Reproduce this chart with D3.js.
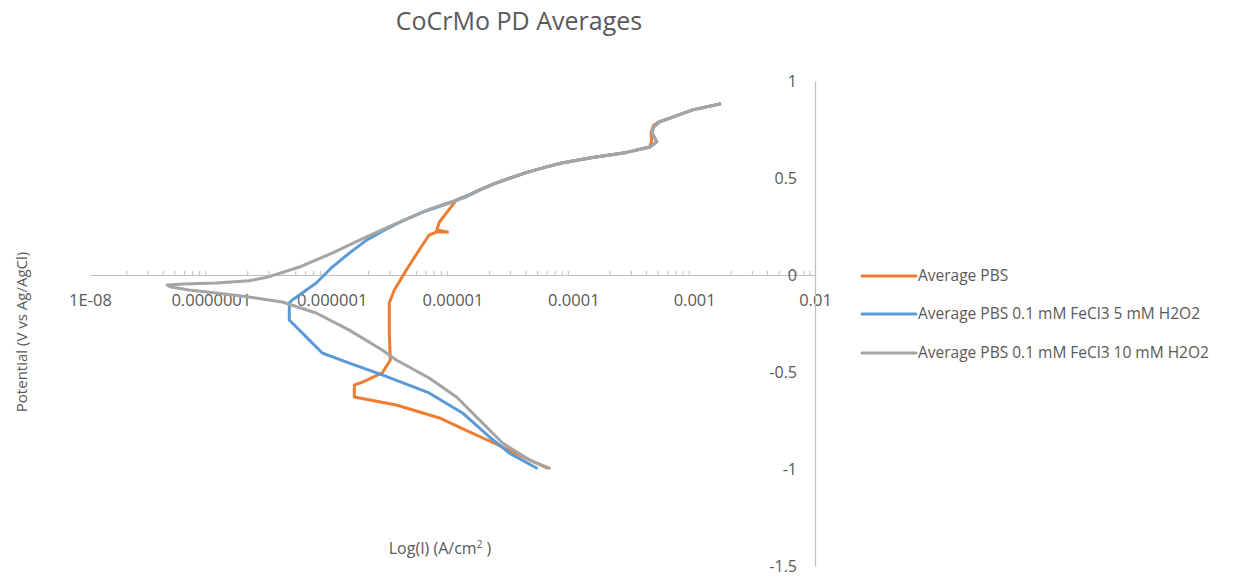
<!DOCTYPE html>
<html>
<head>
<meta charset="utf-8">
<script src="https://cdn.jsdelivr.net/npm/d3@7"></script>
<style>
  html, body { margin: 0; padding: 0; background: #fff; }
  svg { display: block; font-family: "Open Sans", "Noto Sans", sans-serif; }
</style>
</head>
<body>
<svg id="chart" width="1239" height="579"></svg>
<script>
// ---- Data ----
const seriesNames = [
  "Average PBS",
  "Average PBS 0.1 mM FeCl3 5 mM H2O2",
  "Average PBS 0.1 mM FeCl3 10 mM H2O2"
];

// Average PBS
const pbsCurrent = [6.1e-5, 3.58e-5, 2.2e-5, 1.38e-5, 7.8e-6, 3.43e-6, 1.54e-6, 1.54e-6, 1.8e-6, 2.62e-6, 3.06e-6, 3.0e-6, 3.0e-6, 3.3e-6, 4.15e-6, 5.3e-6, 6.4e-6, 7.4e-6, 9.1e-6, 7.4e-6, 7.8e-6, 1.08e-5, 1.35e-5, 1.7e-5, 2.2e-5, 3.0e-5, 4.2e-5, 5.8e-5, 8.0e-5, 1.44e-4, 2.76e-4, 4.3e-4, 4.45e-4, 4.4e-4, 4.6e-4, 5.2e-4, 6.3e-4, 9.7e-4, 1.63e-3];
const pbsPotential = [-0.995, -0.928, -0.866, -0.809, -0.737, -0.670, -0.629, -0.567, -0.552, -0.505, -0.438, -0.299, -0.144, -0.077, 0.026, 0.129, 0.206, 0.222, 0.222, 0.232, 0.273, 0.387, 0.41, 0.44, 0.47, 0.50, 0.53, 0.555, 0.577, 0.606, 0.632, 0.66, 0.69, 0.735, 0.77, 0.792, 0.809, 0.851, 0.881];

// Average PBS 0.1 mM FeCl3 5 mM H2O2
const fe5Current = [4.95e-5, 2.96e-5, 2.02e-5, 1.21e-5, 6.4e-6, 2.62e-6, 1.4e-6, 8.35e-7, 6.17e-7, 4.46e-7, 4.46e-7, 4.72e-7, 7.45e-7, 1.01e-6, 1.4e-6, 1.94e-6, 2.7e-6, 3.9e-6, 6.0e-6, 9.4e-6, 1.35e-5, 1.7e-5, 2.2e-5, 3.0e-5, 4.2e-5, 5.8e-5, 8.0e-5, 1.44e-4, 2.76e-4, 4.3e-4, 4.9e-4, 4.5e-4, 4.6e-4, 5.2e-4, 6.3e-4, 9.7e-4, 1.63e-3];
const fe5Potential = [-0.995, -0.918, -0.835, -0.711, -0.608, -0.515, -0.454, -0.402, -0.320, -0.232, -0.144, -0.129, -0.041, 0.041, 0.113, 0.180, 0.230, 0.280, 0.330, 0.371, 0.41, 0.44, 0.47, 0.50, 0.53, 0.555, 0.577, 0.606, 0.632, 0.66, 0.686, 0.732, 0.763, 0.789, 0.809, 0.851, 0.881];

// Average PBS 0.1 mM FeCl3 10 mM H2O2
const fe10Current = [6.35e-5, 4.34e-5, 2.59e-5, 1.67e-5, 1.08e-5, 6.4e-6, 3.43e-6, 2.62e-6, 1.4e-6, 7.45e-7, 3.9e-7, 2.07e-7, 1.11e-7, 6.6e-8, 4.7e-8, 4.35e-8, 6.0e-8, 1.11e-7, 2.07e-7, 3.0e-7, 5.4e-7, 1.01e-6, 1.94e-6, 3.63e-6, 6.8e-6, 1.3e-5, 1.7e-5, 2.2e-5, 3.0e-5, 4.2e-5, 5.8e-5, 8.0e-5, 1.44e-4, 2.76e-4, 4.3e-4, 4.9e-4, 4.5e-4, 4.6e-4, 5.2e-4, 6.3e-4, 9.7e-4, 1.63e-3];
const fe10Potential = [-0.995, -0.954, -0.866, -0.747, -0.629, -0.531, -0.438, -0.387, -0.284, -0.196, -0.139, -0.113, -0.093, -0.077, -0.062, -0.052, -0.046, -0.041, -0.030, -0.010, 0.041, 0.113, 0.196, 0.273, 0.345, 0.402, 0.44, 0.47, 0.50, 0.53, 0.555, 0.577, 0.606, 0.632, 0.66, 0.686, 0.732, 0.763, 0.789, 0.809, 0.851, 0.881];

const seriesColors = ["#ED7D31", "#5B9BD5", "#A5A5A5"];

const xTickValues = [1e-8, 1e-7, 1e-6, 1e-5, 1e-4, 1e-3, 1e-2];
const xTickLabels = ["1E-08", "0.0000001", "0.000001", "0.00001", "0.0001", "0.001", "0.01"];
const yTickValues = [1, 0.5, 0, -0.5, -1, -1.5];
const yTickLabels = ["1", "0.5", "0", "-0.5", "-1", "-1.5"];

const chartTitle = "CoCrMo PD Averages";
const yTitle = "Potential (V vs Ag/AgCl)";

// ---- Drawing ----
const svg = d3.select("#chart");
const x = d3.scaleLog().domain([1e-8, 1e-2]).range([90, 815]);
const y = d3.scaleLinear().domain([-1.5, 1]).range([566, 81]);
const axisColor = "#BFBFBF";
const textColor = "#595959";

// minor ticks
const minorTicks = [];
for (let e = -8; e < -2; e++) for (let m = 2; m <= 9; m++) minorTicks.push(m * Math.pow(10, e));

// x axis (crossing at y = 0)
const gx = svg.append("g").attr("transform", `translate(0,${y(0)})`)
  .call(d3.axisBottom(x).tickValues(xTickValues).tickSize(0).tickPadding(19)
    .tickFormat((d, i) => xTickLabels[i]));
gx.select(".domain").attr("stroke", axisColor).attr("stroke-width", 1.2);
gx.selectAll("text").attr("fill", textColor).attr("font-size", 16.5)
  .attr("font-family", "'Open Sans', sans-serif");

const gxm = svg.append("g").attr("transform", `translate(0,${y(0)})`)
  .call(d3.axisTop(x).tickValues(minorTicks).tickSize(4).tickFormat(""));
gxm.select(".domain").remove();
gxm.selectAll("line").attr("stroke", axisColor);

// y axis at x = 0.01
const gy = svg.append("g").attr("transform", `translate(${x(1e-2)},0)`)
  .call(d3.axisLeft(y).tickValues(yTickValues).tickSize(0).tickPadding(18)
    .tickFormat((d, i) => yTickLabels[i]));
gy.select(".domain").attr("stroke", axisColor).attr("stroke-width", 1.2);
gy.selectAll("text").attr("fill", textColor).attr("font-size", 16)
  .attr("font-family", "'Open Sans', sans-serif");

// series
const seriesData = [
  d3.zip(pbsCurrent, pbsPotential),
  d3.zip(fe5Current, fe5Potential),
  d3.zip(fe10Current, fe10Potential)
];
const line = d3.line().x(d => x(d[0])).y(d => y(d[1])).curve(d3.curveLinear);
svg.append("g").selectAll("path").data(seriesData).join("path")
  .attr("d", line)
  .attr("fill", "none")
  .attr("stroke", (d, i) => seriesColors[i])
  .attr("stroke-width", 3)
  .attr("stroke-linejoin", "round")
  .attr("stroke-linecap", "round");

// title
svg.append("text").attr("x", 519).attr("y", 30).attr("text-anchor", "middle")
  .attr("fill", textColor).attr("font-size", 25).text(chartTitle);

// y axis title
svg.append("text").attr("transform", "translate(27,332) rotate(-90)")
  .attr("text-anchor", "middle").attr("fill", textColor).attr("font-size", 15)
  .text(yTitle);

// x axis title
const xt = svg.append("text").attr("x", 440).attr("y", 554).attr("text-anchor", "middle")
  .attr("fill", textColor).attr("font-size", 16);
xt.append("tspan").text("Log(I) (A/cm");
xt.append("tspan").attr("dy", -6).attr("font-size", 10).text("2");
xt.append("tspan").attr("dy", 6).text(" )");

// legend
const legendY = [276, 314, 353];
const lg = svg.append("g").selectAll("g").data(seriesNames).join("g")
  .attr("transform", (d, i) => `translate(0,${legendY[i]})`);
lg.append("line").attr("x1", 862).attr("x2", 916).attr("y1", 0).attr("y2", 0)
  .attr("stroke", (d, i) => seriesColors[i]).attr("stroke-width", 3).attr("stroke-linecap", "round");
lg.append("text").attr("x", 918).attr("y", 0).attr("dy", "0.35em")
  .attr("fill", textColor).attr("font-size", 15.5).text(d => d);
</script>
</body>
</html>
